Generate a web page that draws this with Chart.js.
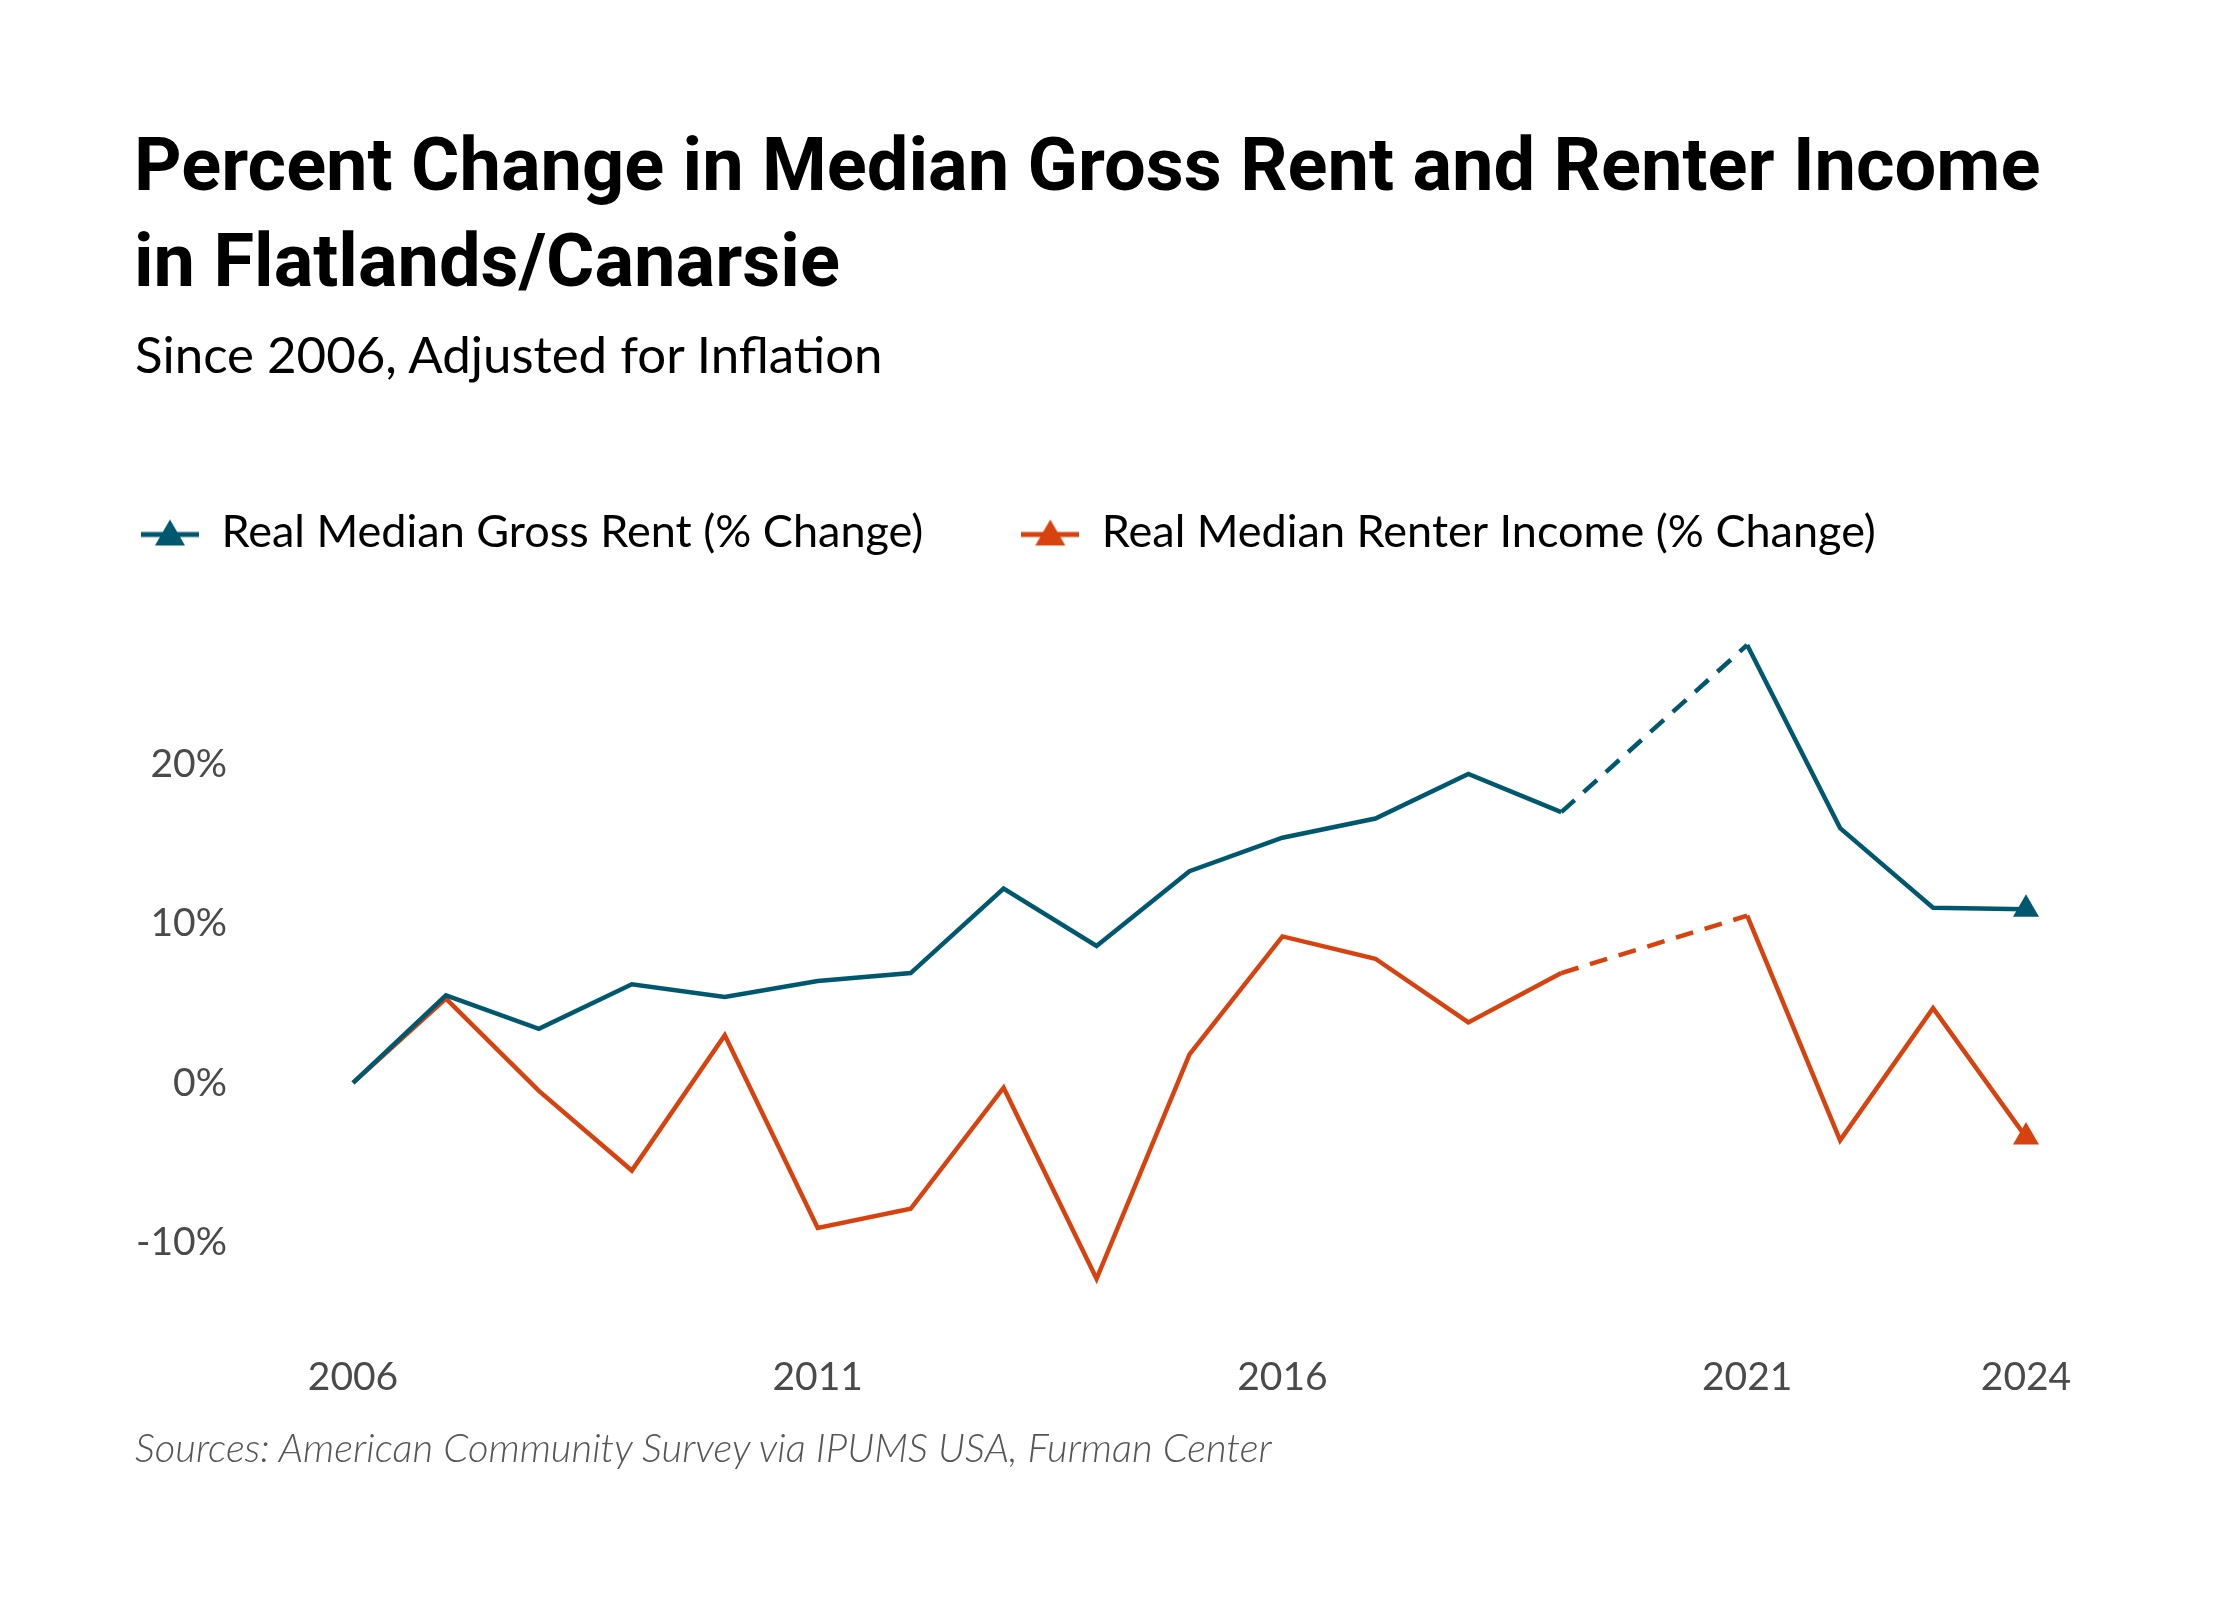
<!DOCTYPE html>
<html>
<head>
<meta charset="utf-8">
<script src="https://cdn.jsdelivr.net/npm/chart.js@4.4.1/dist/chart.umd.min.js"></script>
<style>
  html, body { margin: 0; padding: 0; background: #fff; }
  #page { position: relative; width: 2240px; height: 1600px; overflow: hidden; }
  #chart { position: absolute; left: 0; top: 0; }
  .title {
    position: absolute; left: 134px; top: 117px; margin: 0;
    font: 700 74px/96px Roboto, sans-serif; color: #000;
  }
  .subtitle {
    position: absolute; left: 135px; top: 324px; margin: 0;
    font: 400 51px/60px Lato, sans-serif; color: #000;
  }
  .source {
    position: absolute; left: 135px; top: 1422px; margin: 0;
    font: italic 300 40px/50px Lato, sans-serif; color: #555;
  }
</style>
</head>
<body>
<div id="page">
  <canvas id="chart" width="2240" height="1600"></canvas>
  <h1 class="title">Percent Change in Median Gross Rent and Renter Income<br>in Flatlands/Canarsie</h1>
  <p class="subtitle">Since 2006, Adjusted for Inflation</p>
  <p class="source">Sources: American Community Survey via IPUMS USA, Furman Center</p>
</div>
<script>
const years = ['2006', '2007', '2008', '2009', '2010', '2011', '2012', '2013', '2014', '2015',
  '2016', '2017', '2018', '2019', '2020', '2021', '2022', '2023', '2024'];
const shownYears = ['2006', '2011', '2016', '2021', '2024'];

// 2020 has no estimate, so the line is dashed across the gap
const rentChange = [0, 5.5, 3.4, 6.2, 5.4, 6.4, 6.9, 12.2, 8.6, 13.3,
  15.4, 16.6, 19.4, 17.0, null, 27.5, 16.0, 11.0, 10.9];
const incomeChange = [0, 5.3, -0.5, -5.5, 3.0, -9.1, -7.9, -0.3, -12.3, 1.8,
  9.2, 7.8, 3.8, 6.9, null, 10.5, -3.6, 4.7, -3.4];

const BLUE = '#00586f';
const ORANGE = '#d8420f';

// legend icon: short line with a triangle on it
function legendIcon(color) {
  const c = document.createElement('canvas');
  c.width = 58;
  c.height = 32;
  const ctx = c.getContext('2d');
  ctx.strokeStyle = color;
  ctx.lineWidth = 5;
  ctx.beginPath();
  ctx.moveTo(0, 18);
  ctx.lineTo(58, 18);
  ctx.stroke();
  ctx.fillStyle = color;
  ctx.beginPath();
  ctx.moveTo(29, 3);
  ctx.lineTo(44, 29);
  ctx.lineTo(14, 29);
  ctx.closePath();
  ctx.fill();
  return c;
}

const gapDash = ctx => (ctx.p0.skip || ctx.p1.skip ? [18, 12] : undefined);
const lastPoint = r => ctx => (ctx.dataIndex === years.length - 1 ? r : 0);

function series(label, data, color) {
  return {
    label,
    data,
    borderColor: color,
    backgroundColor: color,
    borderWidth: 4.5,
    tension: 0,
    spanGaps: true,
    segment: { borderDash: gapDash },
    pointStyle: 'triangle',
    pointRadius: lastPoint(15),
    pointHoverRadius: lastPoint(15),
    pointBorderWidth: 0,
    pointBackgroundColor: color,
    icon: legendIcon(color),
  };
}

// legend padding also spaces the items, so pin its height by hand
const legendHeight = {
  id: 'legendHeight',
  beforeInit(chart) {
    const fit = chart.legend.fit;
    chart.legend.fit = function () {
      fit.call(this);
      this.height = 225;
    };
  },
};

new Chart(document.getElementById('chart'), {
  type: 'line',
  data: {
    labels: years,
    datasets: [
      series('Real Median Gross Rent (% Change)', rentChange, BLUE),
      series('Real Median Renter Income (% Change)', incomeChange, ORANGE),
    ],
  },
  options: {
    responsive: false,
    animation: false,
    layout: { padding: { top: 412, left: 43, right: 214, bottom: 200 } },
    plugins: {
      legend: {
        position: 'top',
        align: 'start',
        labels: {
          usePointStyle: true,
          pointStyleWidth: 58,
          padding: 98,
          color: '#000',
          font: { family: 'Lato', size: 45 },
          generateLabels(chart) {
            return chart.data.datasets.map((ds, i) => ({
              text: ds.label,
              pointStyle: ds.icon,
              fillStyle: ds.borderColor,
              strokeStyle: ds.borderColor,
              lineWidth: 0,
              hidden: false,
              datasetIndex: i,
            }));
          },
        },
      },
      tooltip: { enabled: false },
    },
    scales: {
      x: {
        grid: { display: false, drawTicks: false },
        border: { display: false },
        afterFit(scale) { scale.height = 110; },
        ticks: {
          autoSkip: false,
          maxRotation: 0,
          padding: 64,
          color: '#4a4a4a',
          font: { family: 'Lato', size: 39 },
          callback(value) {
            const y = this.getLabelForValue(value);
            return shownYears.includes(y) ? y : '';
          },
        },
      },
      y: {
        min: -13,
        max: 28,
        grid: { display: false, drawTicks: false },
        border: { display: false },
        afterFit(scale) { scale.width = 310; },
        ticks: {
          stepSize: 10,
          includeBounds: false,
          padding: 126,
          color: '#4a4a4a',
          font: { family: 'Lato', size: 39 },
          callback: v => v + '%',
        },
      },
    },
  },
  plugins: [legendHeight],
});
</script>
</body>
</html>
